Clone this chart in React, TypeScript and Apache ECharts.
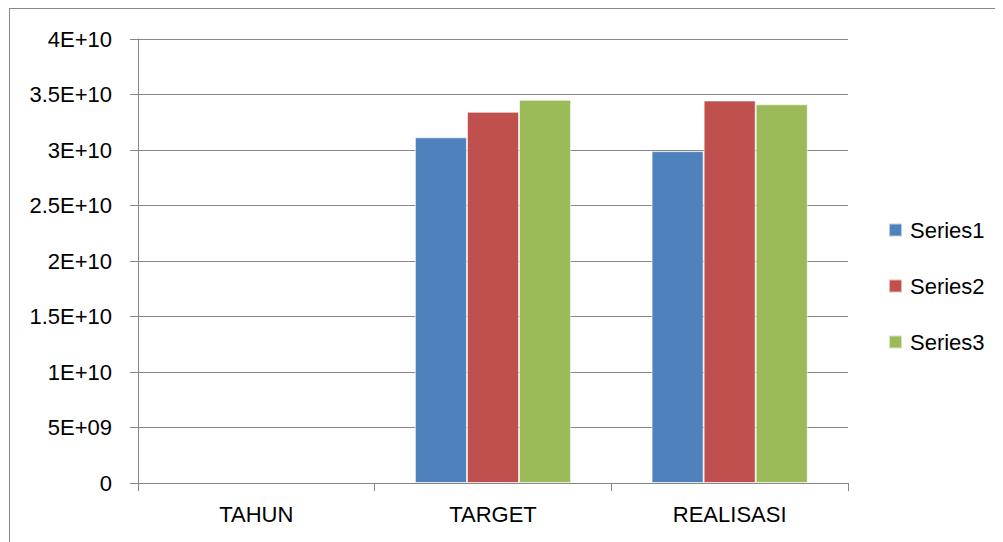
import React, { useEffect, useRef } from "react";
import * as echarts from "echarts";

const categories = ["TAHUN", "TARGET", "REALISASI"];
const series1 = [null, 31140000000, 29900000000];
const series2 = [null, 33440000000, 34460000000];
const series3 = [null, 34520000000, 34120000000];
const seriesNames = ["Series1", "Series2", "Series3"];
const colors = ["#4F81BD", "#C0504D", "#9BBB59"];
const yTickLabels: Record<number, string> = {
  0: "0",
  5000000000: "5E+09",
  10000000000: "1E+10",
  15000000000: "1.5E+10",
  20000000000: "2E+10",
  25000000000: "2.5E+10",
  30000000000: "3E+10",
  35000000000: "3.5E+10",
  40000000000: "4E+10",
};

export default function App() {
  const ref = useRef<HTMLDivElement>(null);
  useEffect(() => {
    if (!ref.current) return;
    const chart = echarts.init(ref.current, null, { renderer: "svg" });
    const font = "Liberation Sans";
    const data = [series1, series2, series3];
    chart.setOption({
      animation: false,
      backgroundColor: "#ffffff",
      textStyle: { fontFamily: font },
      grid: { left: 128, right: 155, top: 30, bottom: 66, containLabel: false },
      legend: {
        orient: "vertical",
        left: 878,
        top: 210,
        padding: 0,
        itemWidth: 13,
        itemHeight: 13,
        itemGap: 34,
        icon: "rect",
        textStyle: { fontFamily: font, fontSize: 22, color: "#000", padding: [0, 0, 0, 3] },
        data: seriesNames,
      },
      xAxis: {
        type: "category",
        data: categories,
        axisLine: { lineStyle: { color: "#868686", width: 1 } },
        axisTick: { show: true, length: 8, lineStyle: { color: "#868686" } },
        axisLabel: { fontFamily: font, fontSize: 22, color: "#000", margin: 20 },
      },
      yAxis: {
        type: "value",
        min: 0,
        max: 40000000000,
        interval: 5000000000,
        axisLine: { show: true, lineStyle: { color: "#868686", width: 1 } },
        axisTick: { show: true, length: 8, lineStyle: { color: "#868686" } },
        splitLine: { lineStyle: { color: "#868686", width: 1 } },
        axisLabel: {
          fontFamily: font,
          fontSize: 22,
          color: "#000",
          margin: 26,
          formatter: (v: number) => yTickLabels[v] ?? String(v),
        },
      },
      series: seriesNames.map((name, i) => ({
        name,
        type: "bar",
        data: data[i],
        barGap: "0%",
        barCategoryGap: "34%",
        itemStyle: { color: colors[i], borderColor: "rgba(255,255,255,0.6)", borderWidth: 1 },
      })),
    });
    return () => chart.dispose();
  }, []);
  return (
    <div style={{ width: 993, height: 540, border: "1px solid #888", overflow: "hidden", marginLeft: 1 }}>
      <div ref={ref} style={{ width: 993, height: 540 }} />
    </div>
  );
}
